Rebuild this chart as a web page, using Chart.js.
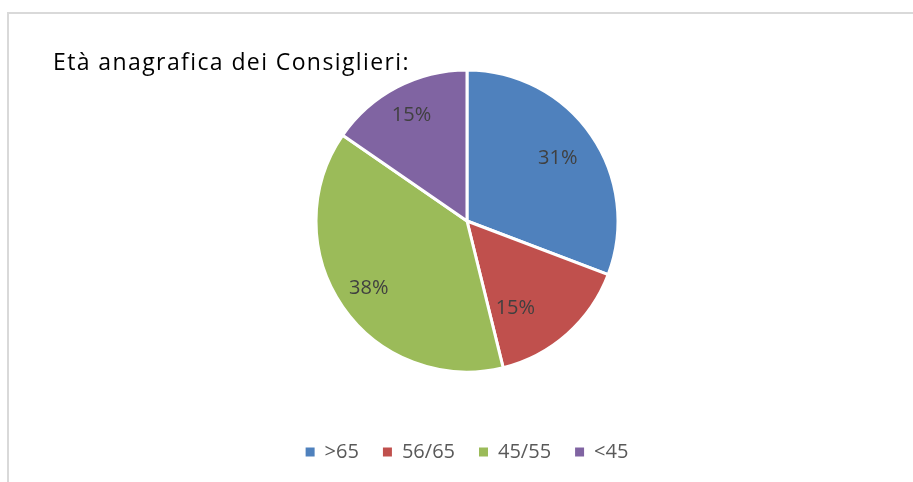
<!DOCTYPE html>
<html>
<head>
<meta charset="utf-8">
<script src="https://cdn.jsdelivr.net/npm/chart.js@4"></script>
<style>
  html, body { margin: 0; padding: 0; background: #fff; }
  #wrap { position: relative; width: 913px; height: 482px; overflow: hidden; }
  #frame { position: absolute; left: 7px; top: 12px; right: 0; bottom: 0;
           border-top: 2px solid #d9d9d9; border-left: 2px solid #d9d9d9; }
  #title { position: absolute; left: 53px; top: 47px; font-family: "Open Sans", sans-serif;
           font-size: 23px; letter-spacing: 1.4px; line-height: 28px; color: #000; white-space: nowrap; }
  canvas { position: absolute; left: 0; top: 0; }
</style>
</head>
<body>
<div id="wrap">
  <div id="frame"></div>
  <canvas id="chart" width="913" height="482"></canvas>
  <div id="title">Età anagrafica dei Consiglieri:</div>
</div>
<script>
const labels = ['>65', '56/65', '45/55', '<45']
const counts = [4, 2, 5, 2]
const colors = ['#4f81bd', '#c0504d', '#9bbb59', '#8064a2']

// percent labels inside the slices (excel "best fit" moved the small red one a bit)
const sliceLabels = {
    id: 'sliceLabels',
    afterDatasetsDraw(chart, args, opts) {
        const ctx = chart.ctx
        const total = counts.reduce((a, b) => a + b, 0)
        const arcs = chart.getDatasetMeta(0).data
        ctx.save()
        ctx.font = '20px "Open Sans", sans-serif'
        ctx.fillStyle = '#404040'
        ctx.textAlign = 'center'
        ctx.textBaseline = 'middle'
        arcs.forEach((arc, i) => {
            const p = arc.getProps(['x', 'y', 'startAngle', 'endAngle', 'outerRadius'], true)
            const nudge = (opts.nudge && opts.nudge[i]) || {}
            const mid = (p.startAngle + p.endAngle) / 2 + (nudge.angle || 0) * Math.PI / 180
            const r = p.outerRadius * (nudge.r || 0.76)
            const txt = Math.round(counts[i] / total * 100) + '%'
            ctx.fillText(txt, p.x + Math.cos(mid) * r, p.y + Math.sin(mid) * r)
        })
        ctx.restore()
    }
}

const ctx = document.getElementById('chart').getContext('2d')
const myChart = new Chart(ctx, {
    type: 'pie',
    data: {
        labels: labels,
        datasets: [{
            data: counts,
            backgroundColor: colors,
            borderColor: '#ffffff',
            borderWidth: 3,
            radius: 151
        }]
    },
    options: {
        responsive: false,
        animation: false,
        layout: { padding: { top: 24, left: 21, right: 0, bottom: 10 } },
        plugins: {
            tooltip: { enabled: false },
            sliceLabels: { nudge: { 0: { r: 0.73 }, 1: { angle: 12.5, r: 0.66 }, 2: { r: 0.79 }, 3: { r: 0.79 } } },
            legend: {
                position: 'bottom',
                labels: {
                    boxWidth: 9,
                    boxHeight: 9,
                    padding: 24,
                    color: '#595959',
                    font: { size: 20, family: '"Open Sans", sans-serif' },
                    generateLabels(chart) {
                        const items = Chart.overrides.pie.plugins.legend.labels.generateLabels(chart)
                        items.forEach(it => { it.lineWidth = 0; it.strokeStyle = it.fillStyle })
                        return items
                    }
                }
            }
        }
    },
    plugins: [sliceLabels]
})
</script>
</body>
</html>
